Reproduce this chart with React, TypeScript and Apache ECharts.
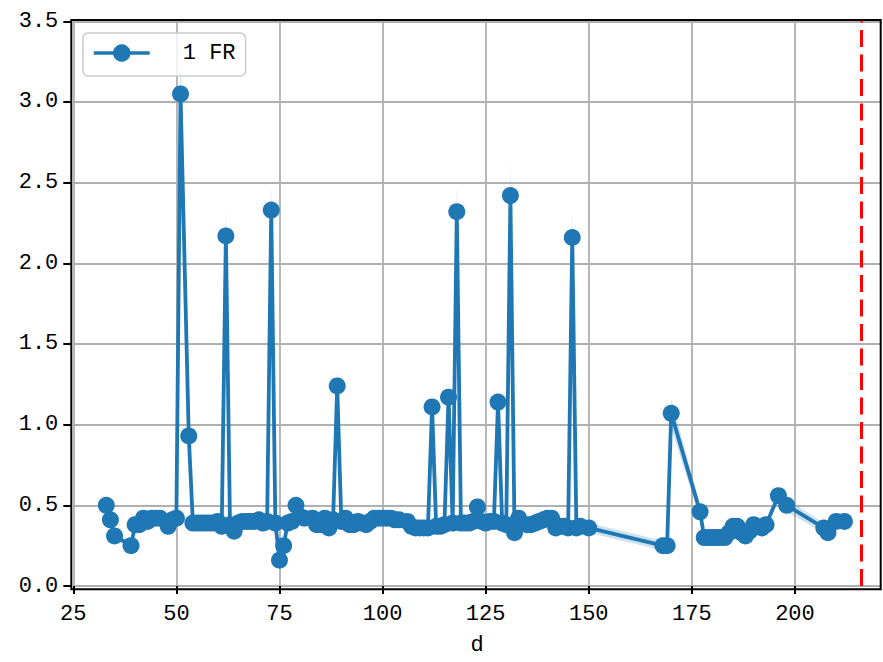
import React, { useEffect, useRef } from "react";
import * as echarts from "echarts";

const days = [
  33, 34, 35, 39, 40, 41, 42, 43, 44, 45, 46, 48, 49, 50, 51, 53, 54, 55, 56, 57,
  58, 59, 60, 61, 62, 63, 64, 65, 66, 67, 68, 69, 70, 71, 72, 73, 74, 75, 76, 77,
  78, 79, 80, 81, 83, 84, 85, 86, 87, 88, 89, 90, 91, 92, 93, 94, 95, 96, 97, 98,
  99, 100, 101, 102, 103, 104, 106, 107, 108, 109, 110, 111, 112, 113, 114, 115, 116, 117, 118, 119,
  120, 121, 122, 123, 124, 125, 126, 127, 128, 129, 130, 131, 132, 133, 135, 136, 137, 138, 139, 140,
  141, 142, 143, 144, 145, 146, 147, 148, 150, 168, 169, 170, 177, 178, 179, 180, 181, 182, 183, 184,
  185, 186, 187, 188, 189, 190, 192, 193, 196, 198, 207, 208, 210, 212,
];

const fr = [
  0.5, 0.41, 0.31, 0.25, 0.38, 0.38, 0.42, 0.4, 0.42, 0.42, 0.42, 0.37, 0.41, 0.42, 3.05, 0.93, 0.39, 0.39, 0.39, 0.39,
  0.39, 0.39, 0.4, 0.37, 2.17, 0.38, 0.34, 0.39, 0.4, 0.4, 0.4, 0.4, 0.41, 0.39, 0.4, 2.33, 0.39, 0.16, 0.25, 0.39,
  0.4, 0.5, 0.43, 0.42, 0.42, 0.38, 0.38, 0.42, 0.36, 0.41, 1.24, 0.4, 0.42, 0.38, 0.38, 0.4, 0.39, 0.38, 0.4, 0.42,
  0.42, 0.42, 0.42, 0.42, 0.41, 0.41, 0.4, 0.37, 0.36, 0.36, 0.36, 0.36, 1.11, 0.37, 0.37, 0.38, 1.17, 0.39, 2.32, 0.39,
  0.39, 0.39, 0.4, 0.49, 0.4, 0.39, 0.4, 0.4, 1.14, 0.39, 0.38, 2.42, 0.33, 0.42, 0.38, 0.38, 0.39, 0.4, 0.41, 0.42,
  0.42, 0.36, 0.37, 0.37, 0.36, 2.16, 0.36, 0.37, 0.36, 0.25, 0.25, 1.07, 0.46, 0.3, 0.3, 0.3, 0.3, 0.3, 0.3, 0.33,
  0.37, 0.37, 0.33, 0.31, 0.34, 0.38, 0.36, 0.38, 0.56, 0.5, 0.36, 0.33, 0.4, 0.4,
];

// half-width of the confidence band, read from the light-blue shading
const ciHalf = [
  0.02, 0.02, 0.02, 0.02, 0.02, 0.02, 0.02, 0.02, 0.02, 0.02, 0.02, 0.02, 0.02, 0.02, 0.3, 0.05, 0.02, 0.02, 0.02, 0.02,
  0.02, 0.02, 0.02, 0.02, 0.18, 0.02, 0.02, 0.02, 0.02, 0.02, 0.02, 0.02, 0.02, 0.02, 0.02, 0.17, 0.02, 0.02, 0.02, 0.02,
  0.02, 0.02, 0.02, 0.02, 0.02, 0.02, 0.02, 0.02, 0.02, 0.02, 0.1, 0.02, 0.02, 0.02, 0.02, 0.02, 0.02, 0.02, 0.02, 0.02,
  0.02, 0.02, 0.02, 0.02, 0.02, 0.02, 0.02, 0.02, 0.02, 0.02, 0.02, 0.02, 0.06, 0.02, 0.02, 0.02, 0.06, 0.02, 0.18, 0.02,
  0.02, 0.02, 0.02, 0.02, 0.02, 0.02, 0.02, 0.02, 0.1, 0.02, 0.02, 0.22, 0.02, 0.02, 0.02, 0.02, 0.02, 0.02, 0.02, 0.02,
  0.02, 0.02, 0.02, 0.02, 0.02, 0.18, 0.02, 0.02, 0.03, 0.03, 0.03, 0.09, 0.04, 0.02, 0.02, 0.02, 0.02, 0.02, 0.02, 0.02,
  0.02, 0.02, 0.02, 0.02, 0.02, 0.02, 0.02, 0.02, 0.03, 0.04, 0.03, 0.02, 0.02, 0.02,
];

const xTicks = [25, 50, 75, 100, 125, 150, 175, 200];
const yTicks = [0, 0.5, 1, 1.5, 2, 2.5, 3, 3.5];
const vLineX = 216;
const seriesName = "1 FR";

const BLUE = "#1f77b4";
const FONT = "Liberation Mono";

export default function App() {
  const ref = useRef<HTMLDivElement>(null);
  useEffect(() => {
    if (!ref.current) return;
    const chart = echarts.init(ref.current, undefined, { renderer: "svg" });
    const main = days.map((d, i) => [d, fr[i]]);
    chart.setOption({
      animation: false,
      backgroundColor: "#ffffff",
      grid: { left: 73.3, right: 2.3, top: 21.3, bottom: 76, containLabel: false },
      legend: {
        data: [seriesName],
        left: 83,
        top: 33,
        orient: "vertical",
        itemWidth: 56,
        itemHeight: 22,
        padding: [9, 10, 12, 9],
        backgroundColor: "rgba(255,255,255,0.8)",
        borderColor: "#cccccc",
        borderWidth: 1.5,
        borderRadius: 5,
        lineStyle: { width: 3.5 },
        textStyle: { fontFamily: FONT, fontSize: 22, color: "#000", padding: [0, 0, 0, 28] },
      },
      xAxis: {
        type: "value",
        min: 25,
        max: 220.8,
        interval: 25,
        offset: 3.3,
        name: "d",
        nameLocation: "middle",
        nameGap: 45,
        nameTextStyle: { fontFamily: FONT, fontSize: 22, color: "#000" },
        axisLine: { show: false },
        axisTick: { show: true, length: 8, lineStyle: { color: "#000", width: 2 }, customValues: xTicks },
        axisLabel: {
          fontFamily: FONT,
          fontSize: 22,
          color: "#000",
          margin: 14,
          customValues: xTicks,
        },
        splitLine: { show: true, lineStyle: { color: "#b0b0b0", width: 1.8 } },
      },
      yAxis: {
        type: "value",
        min: 0,
        max: 3.5,
        interval: 0.5,
        offset: 2,
        axisLine: { show: false },
        axisTick: { show: true, length: 8, lineStyle: { color: "#000", width: 2 }, customValues: yTicks },
        axisLabel: {
          fontFamily: FONT,
          fontSize: 22,
          color: "#000",
          margin: 13,
          customValues: yTicks,
          formatter: (v: number) => v.toFixed(1),
        },
        splitLine: { show: true, lineStyle: { color: "#b0b0b0", width: 1.8 } },
      },
      series: [
        {
          name: "ci",
          type: "custom",
          silent: true,
          z: 1,
          data: [[days[0], fr[0]]],
          renderItem: (_params: any, api: any) => {
            const upper = days.map((d, i) => api.coord([d, fr[i] + ciHalf[i]]));
            const lower = days.map((d, i) => api.coord([d, fr[i] - ciHalf[i]])).reverse();
            return {
              type: "polygon",
              shape: { points: upper.concat(lower) },
              style: { fill: "rgba(31,119,180,0.22)", stroke: "none" },
            };
          },
        },
        {
          name: seriesName,
          type: "line",
          data: main,
          symbol: "circle",
          symbolSize: 17,
          itemStyle: { color: BLUE },
          lineStyle: { color: BLUE, width: 3.8 },
          z: 3,
          markLine: {
            silent: true,
            symbol: "none",
            label: { show: false },
            lineStyle: { color: "#ff0000", width: 3, type: [17, 7.5] },
            data: [{ xAxis: vLineX }],
          },
        },
      ],
      graphic: [
        {
          type: "rect",
          shape: { x: 71.3, y: 20, width: 809.4, height: 569.3 },
          style: { fill: "none", stroke: "#000", lineWidth: 2 },
          z: 100,
          silent: true,
        },
      ],
    });
    return () => chart.dispose();
  }, []);
  return (
    <div
      ref={ref}
      style={{ position: "absolute", left: 0, top: 0, width: 883, height: 662 }}
    />
  );
}
